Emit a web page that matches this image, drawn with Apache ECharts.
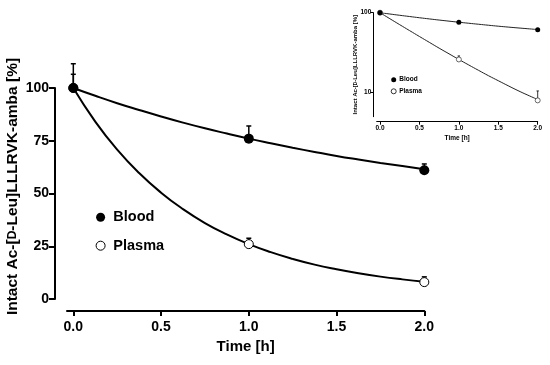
<!DOCTYPE html>
<html><head><meta charset="utf-8">
<script src="https://cdn.jsdelivr.net/npm/echarts@6/dist/echarts.min.js"></script>
<style>html,body{margin:0;padding:0;background:#fff}#c{width:550px;height:365px}</style>
</head><body><div id="c"></div>
<script>
const times = [0, 1, 2];
const blood = [100, 76, 61];
const plasma = [100, 26, 8];
const bloodErr = [11.5, 6, 3];
const plasmaErr = [6.5, 2.8, 2.5];
const fitTimes = [0, 0.125, 0.25, 0.375, 0.5, 0.625, 0.75, 0.875, 1, 1.125, 1.25, 1.375, 1.5, 1.625, 1.75, 1.875, 2];
const bloodFit = [100, 96.3, 92.8, 89.6, 86.5, 83.6, 80.9, 78.4, 76.0, 73.8, 71.7, 69.7, 67.8, 66.1, 64.5, 63.0, 61.5];
const plasmaFit = [100, 84.1, 70.8, 59.7, 50.4, 42.6, 36.0, 30.6, 26.0, 22.2, 19.0, 16.3, 14.1, 12.2, 10.6, 9.3, 8.2];
const xTicks = [0, 0.5, 1, 1.5, 2];
const yTicks = [0, 25, 50, 75, 100];
const insetYTicks = [10, 100];

const FONT = 'Liberation Sans';
const pts = (xs, ys) => xs.map((x, i) => [x, ys[i]]);
const errPts = (xs, ys, es) => xs.map((x, i) => [x, ys[i], es[i]]);

function errRender(cap, lw) {
  return function (params, api) {
    const x = api.value(0), y = api.value(1), e = api.value(2);
    const p0 = api.coord([x, y]);
    const p1 = api.coord([x, y + e]);
    const st = { stroke: '#000', lineWidth: lw };
    return { type: 'group', children: [
      { type: 'line', shape: { x1: p0[0], y1: p0[1], x2: p1[0], y2: p1[1] }, style: st },
      { type: 'line', shape: { x1: p1[0] - cap, y1: p1[1], x2: p1[0] + cap, y2: p1[1] }, style: st }
    ]};
  };
}

const chart = echarts.init(document.getElementById('c'));
const axisTxt = (size) => ({ fontFamily: FONT, fontWeight: 'bold', fontSize: size, color: '#000' });

chart.setOption({
  animation: false,
  backgroundColor: '#fff',
  textStyle: { fontFamily: FONT },
  grid: [
    { left: 67, width: 357.3, top: 88, height: 211, containLabel: false, outerBoundsMode: 'none' },
    { left: 376.7, width: 161, top: 12.7, height: 104, containLabel: false, outerBoundsMode: 'none' }
  ],
  legend: [
    { orient: 'vertical', left: 95.6, top: 209.8, padding: 0, itemWidth: 15.4, itemHeight: 9, itemGap: 13.4, icon: 'circle',
      textStyle: axisTxt(14.5), selectedMode: false,
      data: [{ name: 'Blood' }, { name: 'Plasma', itemStyle: { borderWidth: 1 } }] },
    { orient: 'vertical', left: 390.8, top: 76.2, padding: 0, itemWidth: 5, itemHeight: 5, itemGap: 4.6, icon: 'circle',
      textStyle: { ...axisTxt(6.5), padding: [0, 0, 0, -2] }, selectedMode: false,
      data: [{ name: 'Blood' }, { name: 'Plasma', itemStyle: { borderWidth: 0.8 } }] }
  ],
  xAxis: [
    { gridIndex: 0, type: 'value', min: -0.036, max: 2, offset: 12,
      axisLine: { onZero: false, lineStyle: { color: '#000', width: 2 } },
      axisTick: { customValues: xTicks, length: 5, lineStyle: { color: '#000', width: 2 } },
      axisLabel: { customValues: xTicks, formatter: v => v.toFixed(1), margin: 9, ...axisTxt(14) },
      splitLine: { show: false },
      name: 'Time [h]', nameLocation: 'middle', nameGap: 28.5, nameMoveOverlap: false, nameTextStyle: axisTxt(15) },
    { gridIndex: 1, type: 'value', min: -0.042, max: 2, offset: 5,
      axisLine: { onZero: false, lineStyle: { color: '#000', width: 1 } },
      axisTick: { customValues: xTicks, length: 3, lineStyle: { color: '#000', width: 1 } },
      axisLabel: { customValues: xTicks, formatter: v => v.toFixed(1), margin: 3, ...axisTxt(6.5) },
      splitLine: { show: false },
      name: 'Time [h]', nameLocation: 'middle', nameGap: 13, nameMoveOverlap: false, nameTextStyle: axisTxt(6.5) }
  ],
  yAxis: [
    { gridIndex: 0, type: 'value', min: 0, max: 100, offset: 12,
      axisLine: { show: true, onZero: false, lineStyle: { color: '#000', width: 2 } },
      axisTick: { show: true, customValues: yTicks, length: 6, lineStyle: { color: '#000', width: 2 } },
      axisLabel: { customValues: yTicks, margin: 6, ...axisTxt(14) },
      splitLine: { show: false },
      name: 'Intact Ac-[{sc|D}-Leu]LLLRVK-amba [%]', nameLocation: 'middle', nameGap: 34, nameMoveOverlap: false,
      nameTextStyle: { ...axisTxt(15.5), padding: [0, 0, 0, 14],
        rich: { sc: { fontFamily: FONT, fontWeight: 'bold', fontSize: 12, color: '#000' } } } },
    { gridIndex: 1, type: 'log', logBase: 10, min: 5, max: 100, offset: 3.4,
      axisLine: { show: true, onZero: false, lineStyle: { color: '#000', width: 1 } },
      axisTick: { show: true, customValues: insetYTicks, length: 3, lineStyle: { color: '#000', width: 1 } },
      axisLabel: { customValues: insetYTicks, margin: 2, ...axisTxt(6.5) },
      splitLine: { show: false }, minorTick: { show: false },
      name: 'Intact Ac-[{sc|D}-Leu]LLLRVK-amba [%]', nameLocation: 'middle', nameGap: 15, nameMoveOverlap: false,
      nameTextStyle: { ...axisTxt(6), rich: { sc: { fontFamily: FONT, fontWeight: 'bold', fontSize: 4.6, color: '#000' } } } }
  ],
  series: [
    // main chart
    { type: 'line', name: 'BloodFit', xAxisIndex: 0, yAxisIndex: 0, data: pts(fitTimes, bloodFit), smooth: true,
      showSymbol: false, lineStyle: { color: '#000', width: 2 }, z: 2, silent: true },
    { type: 'line', name: 'PlasmaFit', xAxisIndex: 0, yAxisIndex: 0, data: pts(fitTimes, plasmaFit), smooth: true,
      showSymbol: false, lineStyle: { color: '#000', width: 2 }, z: 2, silent: true },
    { type: 'custom', xAxisIndex: 0, yAxisIndex: 0, data: errPts(times, blood, bloodErr), renderItem: errRender(2.5, 1.5), clip: false, z: 3, silent: true },
    { type: 'custom', xAxisIndex: 0, yAxisIndex: 0, data: errPts(times, plasma, plasmaErr), renderItem: errRender(2.5, 1.5), clip: false, z: 3, silent: true },
    { type: 'scatter', name: 'Plasma', xAxisIndex: 0, yAxisIndex: 0, data: pts(times, plasma), symbol: 'circle', symbolSize: 9,
      itemStyle: { color: '#fff', borderColor: '#000', borderWidth: 1, opacity: 1 }, z: 4 },
    { type: 'scatter', name: 'Blood', xAxisIndex: 0, yAxisIndex: 0, data: pts(times, blood), symbol: 'circle', symbolSize: 10,
      itemStyle: { color: '#000', opacity: 1 }, z: 5 },
    // inset
    { type: 'line', name: 'BloodFitInset', xAxisIndex: 1, yAxisIndex: 1, data: pts(fitTimes, bloodFit), smooth: true,
      showSymbol: false, lineStyle: { color: '#222', width: 1 }, z: 2, silent: true },
    { type: 'line', name: 'PlasmaFitInset', xAxisIndex: 1, yAxisIndex: 1, data: pts(fitTimes, plasmaFit), smooth: true,
      showSymbol: false, lineStyle: { color: '#222', width: 1 }, z: 2, silent: true },
    { type: 'custom', xAxisIndex: 1, yAxisIndex: 1, data: errPts(times, plasma, plasmaErr), renderItem: errRender(1.2, 0.8), clip: false, z: 3, silent: true },
    { type: 'scatter', name: 'Plasma', xAxisIndex: 1, yAxisIndex: 1, data: pts(times, plasma), symbol: 'circle', symbolSize: 5,
      itemStyle: { color: '#fff', borderColor: '#444', borderWidth: 0.8, opacity: 1 }, z: 4 },
    { type: 'scatter', name: 'Blood', xAxisIndex: 1, yAxisIndex: 1, data: pts(times, blood), symbol: 'circle', symbolSize: 5,
      itemStyle: { color: '#000', opacity: 1 }, z: 5 }
  ]
});
</script></body></html>
